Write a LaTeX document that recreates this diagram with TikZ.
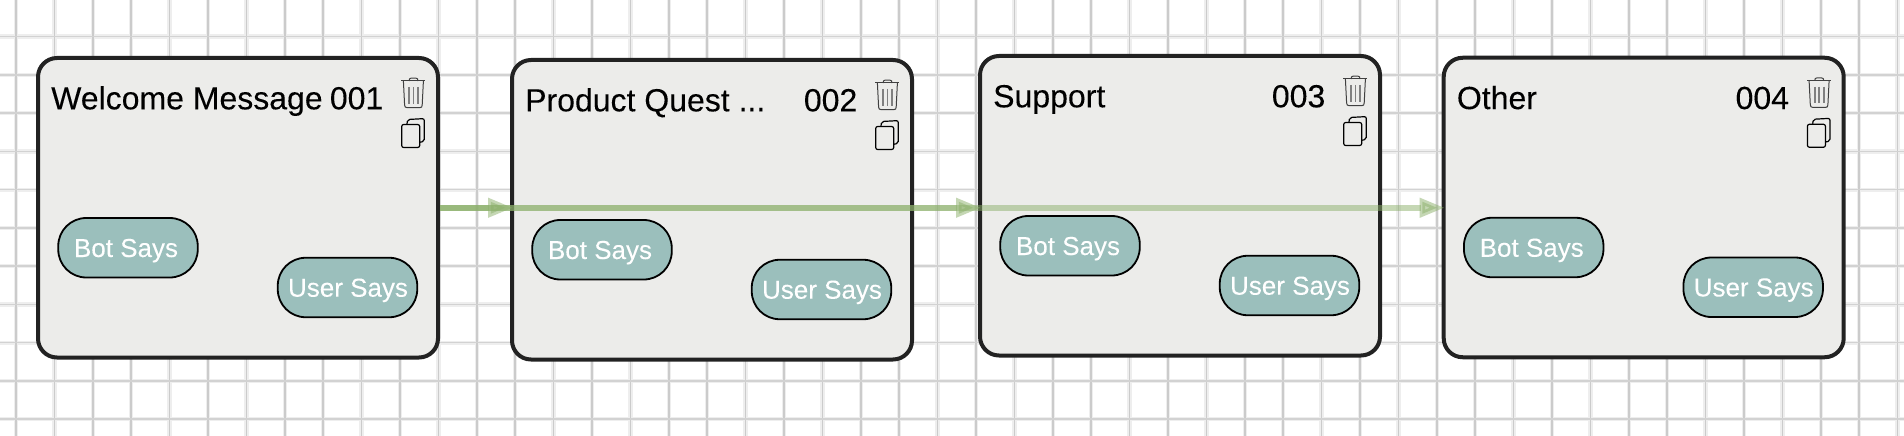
\documentclass[tikz,border=0pt]{standalone}
\usepackage{fontspec}
\setmainfont{Liberation Sans}
\newfontfamily\cardface[FakeBold=0.12]{Liberation Sans}
\usetikzlibrary{arrows.meta}
\definecolor{gridpale}{HTML}{EEEEEE}
\definecolor{gridcorev}{HTML}{CBCBCB}
\definecolor{gridcoreh}{HTML}{D2D2D2}
\definecolor{cardfill}{HTML}{ECECEA}
\definecolor{cardline}{HTML}{222222}
\definecolor{pillfill}{HTML}{9BBFBC}
\definecolor{flow}{HTML}{8CB06B}
\tikzset{
  x=1pt,y=-1pt,
  card/.style={draw=cardline,fill=cardfill,line width=4pt,rounded corners=19pt,minimum width=400pt,minimum height=299.5pt,inner sep=0pt},
  pill/.style={draw=black,fill=pillfill,line width=1.8pt,rounded corners=28pt,minimum width=139.5pt,minimum height=59.5pt,inner sep=0pt},
  pilltext/.style={inner sep=0pt,text=white,font=\cardface\fontsize{26}{30}\selectfont},
  cardtext/.style={inner sep=0pt,text=black,font=\cardface\fontsize{32}{36}\selectfont},
  flowline/.style={draw=flow,line width=5.5pt,opacity=0.5,shorten >=-3pt,-{Triangle[length=25pt,width=18.5pt]}},
  icontrash/.style={draw=black!75,line width=1pt,line join=round},
  iconbar/.style={draw=black!50,line width=1.6pt},
  iconcopy/.style={draw=black,line width=1.2pt,line join=round}
}
\newcommand{\cardblock}[5]{%
  \node[card] (#1) at (#2,#3) {};
  \begin{scope}[shift={(#2-200,#3-149.75)}]
    \node[cardtext,anchor=base west] (#1title) at (13,51.3) {#4};
    \node[cardtext,anchor=base east] (#1num) at (345.5,51.3) {#5};
    \node[pill] (#1bot) at (90,189.75) {};
    \node[pilltext,anchor=base] (#1bottext) at (88,199) {Bot Says};
    \node[pill] (#1user) at (309.5,229.5) {};
    \node[pilltext,anchor=base] (#1usertext) at (310,238.7) {User Says};
    % trash icon
    \draw[icontrash] (363.3,23) -- (387.2,23);
    \draw[icontrash] (371,23) -- (371.6,20.8) .. controls (372,20.2) and (372.5,20.2) .. (373,20.2) -- (378,20.2) .. controls (378.6,20.2) and (379.2,20.2) .. (379.5,20.8) -- (380,23);
    \draw[icontrash] (365.4,23) -- (366.6,47) .. controls (366.7,49) and (367.5,49.6) .. (369,49.6) -- (382,49.6) .. controls (383.5,49.6) and (384.1,49) .. (384.2,47) -- (385.4,23);
    \foreach \bx in {371,375.4,380}{\draw[iconbar] (\bx,29) -- (\bx,45.5);}
    % copy icon
    \draw[iconcopy,rounded corners=2pt] (363.7,66.5) rectangle (381.7,89.5);
    \draw[iconcopy,rounded corners=2pt] (369,66) -- (369.6,61.5) -- (386.3,60.6) -- (386.3,83.4) -- (382,84.2);
  \end{scope}
}
\begin{document}
\begin{tikzpicture}
\useasboundingbox (0,0) rectangle (1904,436);
\fill[white] (0,0) rectangle (1904,436);
\begin{scope}
\clip (0,0) rectangle (1904,436);
\foreach \n in {0,...,49}{
  \draw[gridpale,line width=4.4pt] ({16+38.4*\n},0) -- ({16+38.4*\n},436);
}
\foreach \n in {0,...,10}{
  \draw[gridpale,line width=4.4pt] (0,{36.7+38.25*\n}) -- (1904,{36.7+38.25*\n});
}
\foreach \n in {0,...,49}{
  \draw[gridcorev,line width=1.5pt] ({16+38.4*\n},0) -- ({16+38.4*\n},436);
}
\foreach \n in {0,...,10}{
  \draw[gridcoreh,line width=1.5pt] (0,{36.7+38.25*\n}) -- (1904,{36.7+38.25*\n});
}
\end{scope}
\cardblock{b1}{238}{207.75}{Welcome Message}{001}
\cardblock{b2}{712}{209.75}{Product Quest ...}{002}
\cardblock{b3}{1180}{205.75}{Support}{003}
\cardblock{b4}{1643.7}{207.5}{Other}{004}
\draw[flowline] (b1.east) -- (b1.east -| b2.west);
\draw[flowline] (b1.east) -- (b1.east -| b3.west);
\draw[flowline] (b1.east) -- (b1.east -| b4.west);
\end{tikzpicture}
\end{document}
